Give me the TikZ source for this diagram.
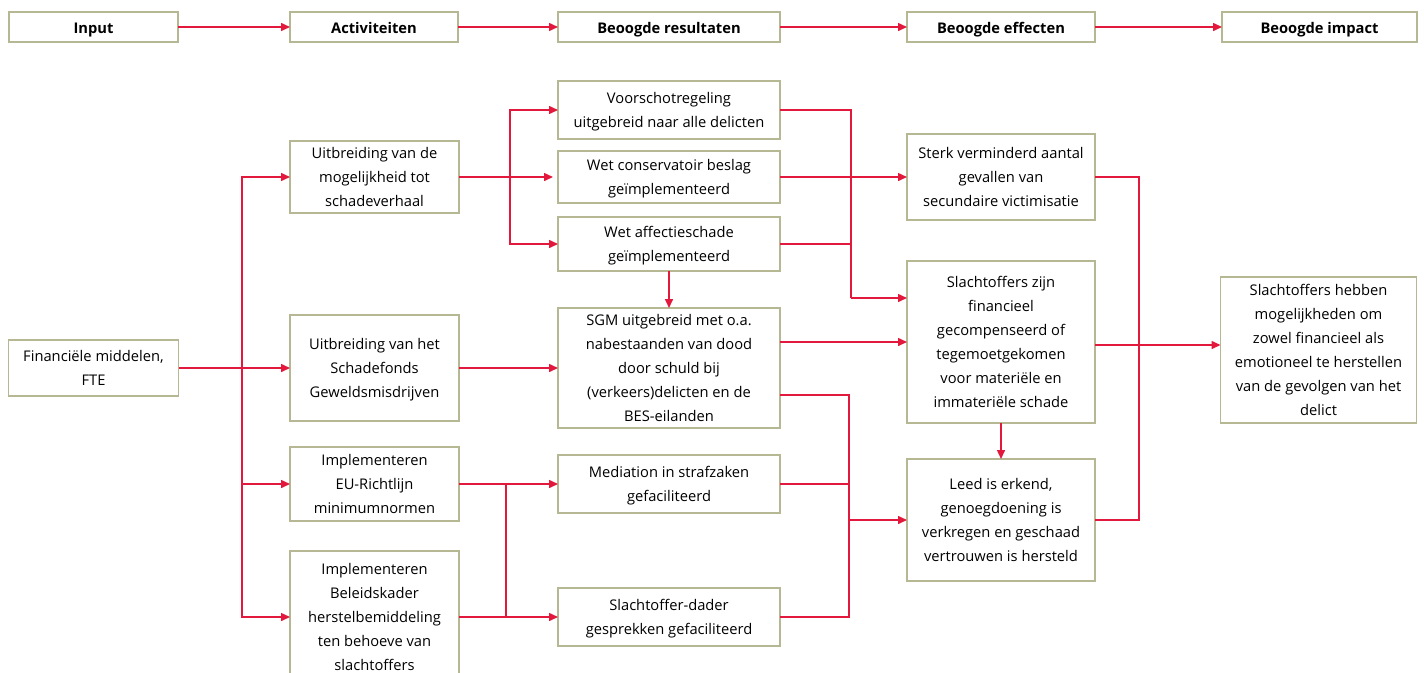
\documentclass[tikz,border=0pt]{standalone}
\usepackage{fontspec}
\setmainfont{Open Sans}
\usepackage{tikz}
\usetikzlibrary{positioning,arrows.meta}

\definecolor{boxline}{RGB}{181,184,146}
\definecolor{linkred}{RGB}{226,24,60}

\begin{document}
\begin{tikzpicture}[
            x=1pt, y=-1pt,
            box/.style={rectangle, draw=boxline, line width=1.4pt, outer sep=0pt, inner sep=2pt,
                text depth=-2pt, align=center, font=\fontsize{14.7}{24}\selectfont},
            head/.style={box, minimum height=30pt, text height=14pt, text depth=2pt,
                font=\fontsize{14.7}{24}\selectfont\bfseries},
            arrow/.style={-{Triangle[length=9pt,width=8pt]}, draw=linkred, line width=1.5pt},
            link/.style={draw=linkred, line width=1.5pt}
        ]
        \useasboundingbox (0,0) rectangle (1424,672);

        % top row
        \node[head, minimum width=169pt] (input) at (93.5,27) {Input};
        \node[head, minimum width=168pt, right=112pt of input] (act) {Activiteiten};
        \node[head, minimum width=222pt, right=100pt of act] (res) {Beoogde resultaten};
        \node[head, minimum width=188pt, right=127pt of res] (eff) {Beoogde effecten};
        \node[head, minimum width=195pt, right=127pt of eff] (impact) {Beoogde impact};

        \draw[arrow] (input) -- (act);
        \draw[arrow] (act) -- (res);
        \draw[arrow] (res) -- (eff);
        \draw[arrow] (eff) -- (impact);

        % input
        \node[box, minimum width=170pt, minimum height=56pt] (fin) at (93.5,368) {Financiële middelen,\\FTE};

        % activiteiten
        \node[box, minimum width=169pt, minimum height=72pt] (verhaal) at (374.5,177) {Uitbreiding van de\\mogelijkheid tot\\schadeverhaal};
        \node[box, minimum width=169pt, minimum height=106pt, below=102pt of verhaal] (fonds) {Uitbreiding van het\\Schadefonds\\Geweldsmisdrijven};
        \node[box, minimum width=169pt, minimum height=74pt, below=26pt of fonds] (eu) {Implementeren\\EU-Richtlijn\\minimumnormen};
        \node[box, minimum width=169pt, minimum height=132pt, below=30pt of eu] (kader) {Implementeren\\Beleidskader\\herstelbemiddeling\\ten behoeve van\\slachtoffers};

        % resultaten
        \node[box, minimum width=222pt, minimum height=58pt] (voorschot) at (669,110) {Voorschotregeling\\uitgebreid naar alle delicten};
        \node[box, minimum width=222pt, minimum height=52pt, below=12pt of voorschot] (beslag) {Wet conservatoir beslag\\geïmplementeerd};
        \node[box, minimum width=222pt, minimum height=54pt, below=14pt of beslag] (affectie) {Wet affectieschade\\geïmplementeerd};
        \node[box, minimum width=222pt, minimum height=120pt, below=37pt of affectie] (sgm) {SGM uitgebreid met o.a.\\nabestaanden van dood\\door schuld bij\\(verkeers)delicten en de\\BES-eilanden};
        \node[box, minimum width=222pt, minimum height=58pt, below=27pt of sgm] (mediation) {Mediation in strafzaken\\gefaciliteerd};
        \node[box, minimum width=222pt, minimum height=58pt, below=75pt of mediation] (dader) {Slachtoffer-dader\\gesprekken gefaciliteerd};

        % effecten
        \node[box, minimum width=188pt, minimum height=86pt] (verminderd) at (1001,177) {Sterk verminderd aantal\\gevallen van\\secundaire victimisatie};
        \node[box, minimum width=188pt, minimum height=162pt, below=41pt of verminderd] (comp) {Slachtoffers zijn\\financieel\\gecompenseerd of\\tegemoetgekomen\\voor materiële en\\immateriële schade};
        \node[box, minimum width=188pt, minimum height=122pt, below=36pt of comp] (leed) {Leed is erkend,\\genoegdoening is\\verkregen en geschaad\\vertrouwen is hersteld};

        % impact
        \node[box, minimum width=196pt, minimum height=146pt] (herstel) at (1318.5,350) {Slachtoffers hebben\\mogelijkheden om\\zowel financieel als\\emotioneel te herstellen\\van de gevolgen van het\\delict};

        % split and join points
        \coordinate (split1) at (242,368);
        \coordinate (split2) at (510,177);
        \coordinate (split3) at (506,484);
        \coordinate (join1) at (851,298);
        \coordinate (join2) at (849,520);
        \coordinate (join3) at (1139,345);

        % input -> activiteiten
        \draw[arrow] (fin) -- (fonds);
        \draw[arrow] (split1) |- (verhaal);
        \draw[arrow] (split1) |- (eu);
        \draw[arrow] (split1) |- (kader);

        % activiteiten -> resultaten
        \draw[link] (verhaal) -- (split2);
        \draw[arrow] (split2) |- (voorschot);
        \draw[arrow, shorten >=5pt] (split2) -- (beslag);
        \draw[arrow] (split2) |- (affectie);
        \draw[arrow] (fonds) -- (sgm);
        \draw[arrow] (eu) -- (mediation);
        \draw[arrow] (kader) -- (dader);
        \draw[link] (split3) -- (split3 |- dader);
        \draw[arrow] (affectie) -- (sgm);

        % resultaten -> effecten
        \draw[link] (voorschot) -| (join1);
        \draw[link] (affectie) -| (join1);
        \draw[arrow] (join1) -- (comp.west |- join1);
        \draw[arrow] (beslag) -- (verminderd);
        \draw[arrow] (sgm.east |- comp) -- (comp);
        \draw[link] ([yshift=-27pt]sgm.east) -| (join2);
        \draw[link] (mediation) -| (join2);
        \draw[link] (dader) -| (join2);
        \draw[arrow] (join2) -- (leed);
        \draw[arrow] (comp) -- (leed);

        % effecten -> impact
        \draw[link] (verminderd) -| (join3);
        \draw[link] (leed) -| (join3);
        \draw[arrow] (comp.east |- join3) -- (herstel.west |- join3);
\end{tikzpicture}
\end{document}
